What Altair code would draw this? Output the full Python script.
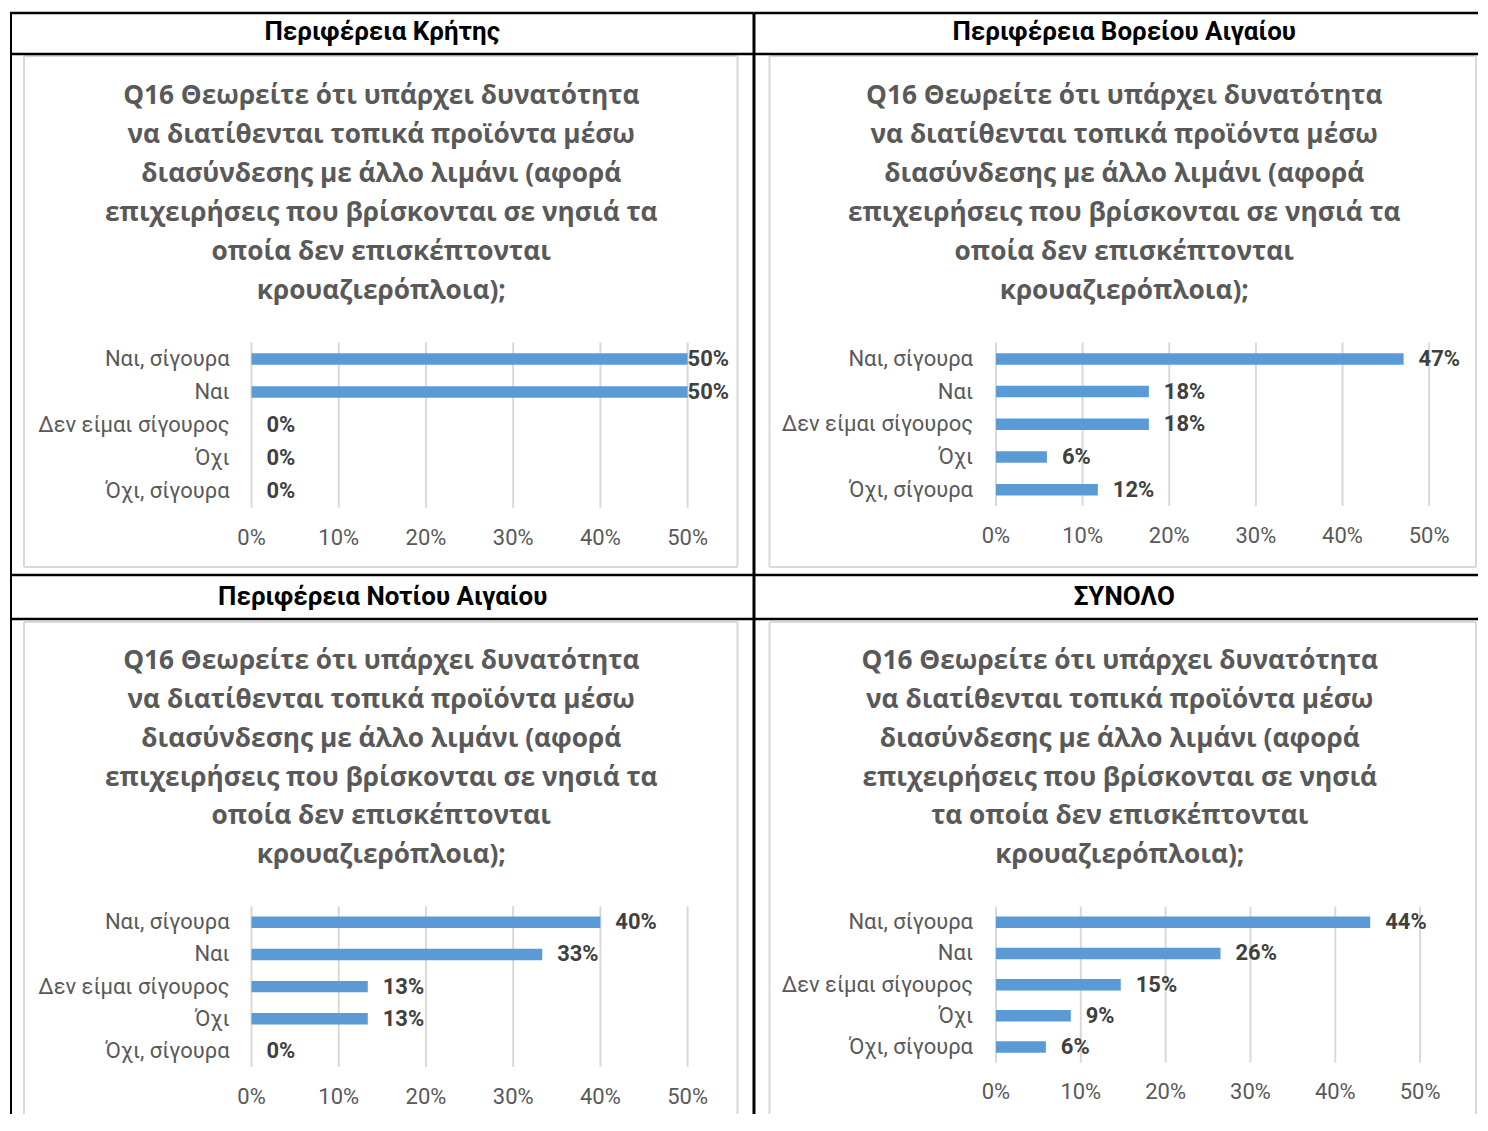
import altair as alt
import pandas as pd

# ---------------- data ----------------
categories = ["Ναι, σίγουρα", "Ναι", "Δεν είμαι σίγουρος", "Όχι", "Όχι, σίγουρα"]

panel_names = ["Περιφέρεια Κρήτης", "Περιφέρεια Βορείου Αιγαίου",
               "Περιφέρεια Νοτίου Αιγαίου", "ΣΥΝΟΛΟ"]

values_kriti = [0.50, 0.50, 0.0, 0.0, 0.0]
values_voreio = [0.4706, 0.1765, 0.1765, 0.0588, 0.1176]
values_notio = [0.40, 0.3333, 0.1333, 0.1333, 0.0]
values_synolo = [0.4412, 0.2647, 0.1471, 0.0882, 0.0588]

tick_values = [0.0, 0.1, 0.2, 0.3, 0.4, 0.5]

title_lines_a = [
    "Q16 Θεωρείτε ότι υπάρχει δυνατότητα",
    "να διατίθενται τοπικά προϊόντα μέσω",
    "διασύνδεσης με άλλο λιμάνι (αφορά",
    "επιχειρήσεις που βρίσκονται σε νησιά τα",
    "οποία δεν επισκέπτονται",
    "κρουαζιερόπλοια);",
]
title_lines_b = [
    "Q16 Θεωρείτε ότι υπάρχει δυνατότητα",
    "να διατίθενται τοπικά προϊόντα μέσω",
    "διασύνδεσης με άλλο λιμάνι (αφορά",
    "επιχειρήσεις που βρίσκονται σε νησιά",
    "τα οποία δεν επισκέπτονται",
    "κρουαζιερόπλοια);",
]

# ---------------- style ----------------
BAR = "#5B9BD5"
GRID = "#D9D9D9"
GREY = "#595959"
DARK = "#404040"
TITLE_FONT = "Open Sans"
LABEL_FONT = "Roboto"

# layout of each table cell, in page pixels (origin = top-left of the cell view)
layouts = [
    dict(name=panel_names[0], vals=values_kriti, lines=title_lines_a,
         o=(8, 8), w=745, h=567, top_rule=12, left_rule=9, left_w=2, head_rule=53, head=(381, 31),
         box=(22, 55, 737, 567), title=(380, 95), xr=(250, 687), yc=(358.5, 491),
         tick_y=538, cat_r=228),
    dict(name=panel_names[1], vals=values_voreio, lines=title_lines_a,
         o=(753, 8), w=726, h=567, top_rule=12, left_rule=753.5, left_w=3, head_rule=53,
         head=(1124.5, 31),
         box=(769, 55, 1477, 567), title=(1124.5, 95), xr=(996, 1430), yc=(358.5, 489.5),
         tick_y=536, cat_r=973),
    dict(name=panel_names[2], vals=values_notio, lines=title_lines_a,
         o=(8, 575), w=745, h=540, top_rule=575, left_rule=9, left_w=2, head_rule=619,
         head=(381.5, 597),
         box=(22, 622, 737, None), title=(380, 661), xr=(250, 687), yc=(923, 1052),
         tick_y=1098, cat_r=228),
    dict(name=panel_names[3], vals=values_synolo, lines=title_lines_b,
         o=(753, 575), w=726, h=540, top_rule=575, left_rule=753.5, left_w=3, head_rule=619,
         head=(1124.5, 597),
         box=(769, 622, 1477, None), title=(1120, 661), xr=(996, 1421), yc=(923, 1048),
         tick_y=1093, cat_r=973),
]

one = alt.Data(values=[{}])
ticks_df = pd.DataFrame({"t": tick_values})


def hrule(x1, x2, y, color, width):
    return alt.Chart(one).mark_rule(color=color, strokeWidth=width).encode(
        x=alt.value(x1), x2=alt.value(x2), y=alt.value(y))


def vrule(x, y1, y2, color, width):
    return alt.Chart(one).mark_rule(color=color, strokeWidth=width).encode(
        x=alt.value(x), y=alt.value(y1), y2=alt.value(y2))


def panel(lay):
    ox, oy = lay["o"]
    w, h = lay["w"], lay["h"]
    X = lambda v: v - ox
    Y = lambda v: v - oy

    df = pd.DataFrame({"cat": categories, "value": lay["vals"]})
    n = len(categories)
    yc0, yc1 = Y(lay["yc"][0]), Y(lay["yc"][1])
    step = (yc1 - yc0) / (n - 1)
    y0, y1 = yc0 - step / 2, yc1 + step / 2
    bar_h = 11.5
    pi = 1 - bar_h / step
    xs = alt.Scale(domain=[0, 0.5], range=[X(lay["xr"][0]), X(lay["xr"][1])], nice=False, zero=True)
    ys = alt.Scale(domain=categories, range=[y0, y1], paddingInner=pi, paddingOuter=pi / 2)

    x_enc = alt.X("value:Q", scale=xs, axis=None)
    y_enc = alt.Y("cat:N", scale=ys, axis=None, sort=categories)

    layers = []
    # gray chart frame
    bx = lay["box"]
    bl, bt, br, bb = X(bx[0]), Y(bx[1]), X(bx[2]), (Y(bx[3]) if bx[3] is not None else h)
    layers += [vrule(bl, bt, bb, GRID, 2), vrule(br, bt, bb, GRID, 2), hrule(bl, br, bt, GRID, 2)]
    if bx[3] is not None:
        layers.append(hrule(bl, br, bb, GRID, 2))

    # table borders
    layers += [
        hrule(0, w, Y(lay["top_rule"]), "black", 2.5),
        vrule(X(lay["left_rule"]), Y(lay["top_rule"]), h, "black", lay["left_w"]),
        hrule(0, w, Y(lay["head_rule"]), "black", 2.5),
    ]

    header = alt.Chart(one).mark_text(
        text=lay["name"], font=LABEL_FONT, fontWeight="bold", fontSize=26,
        color="black", baseline="middle", align="center"
    ).encode(x=alt.value(X(lay["head"][0])), y=alt.value(Y(lay["head"][1])))

    title = alt.Chart(one).mark_text(
        text=lay["lines"], font=TITLE_FONT, fontWeight="bold", fontSize=26.3,
        color=GREY, lineHeight=39, baseline="middle", align="center"
    ).encode(x=alt.value(X(lay["title"][0])), y=alt.value(Y(lay["title"][1])))

    grid = alt.Chart(ticks_df).mark_rule(color=GRID, strokeWidth=2).encode(
        x=alt.X("t:Q", scale=xs, axis=None),
        y=alt.value(y0), y2=alt.value(y1))

    tick_lab = alt.Chart(ticks_df).mark_text(
        font=LABEL_FONT, fontSize=22, color=GREY, baseline="middle", align="center"
    ).encode(x=alt.X("t:Q", scale=xs, axis=None), y=alt.value(Y(lay["tick_y"])),
             text=alt.Text("t:Q", format=".0%"))

    cat_lab = alt.Chart(df).mark_text(
        font=LABEL_FONT, fontSize=22, color=GREY, baseline="middle", align="right"
    ).encode(x=alt.value(X(lay["cat_r"])), y=y_enc, text="cat:N")

    bars = alt.Chart(df).mark_bar(color=BAR).encode(x=x_enc, y=y_enc)

    val_lab = alt.Chart(df).mark_text(
        font=LABEL_FONT, fontSize=22, fontWeight="bold", color=DARK,
        baseline="middle", align="left", dx=15
    ).encode(x=x_enc, y=y_enc, text=alt.Text("value:Q", format=".0%")).transform_filter(
        "datum.value < 0.495")

    val_lab_full = alt.Chart(df).mark_text(
        font=LABEL_FONT, fontSize=22, fontWeight="bold", color=DARK,
        baseline="middle", align="left", dx=0
    ).encode(x=x_enc, y=y_enc, text=alt.Text("value:Q", format=".0%")).transform_filter(
        "datum.value >= 0.495")

    layers += [header, title, grid, tick_lab, cat_lab, bars, val_lab, val_lab_full]
    return alt.layer(*layers).properties(width=w, height=h)


chart = alt.concat(*[panel(l) for l in layouts], columns=2, spacing=0, bounds="flush").properties(
    padding=0
).configure(background="white", view=alt.ViewConfig(stroke=None, strokeWidth=0))

chart.save("out.html", embed_options={"renderer": "svg", "actions": False})
